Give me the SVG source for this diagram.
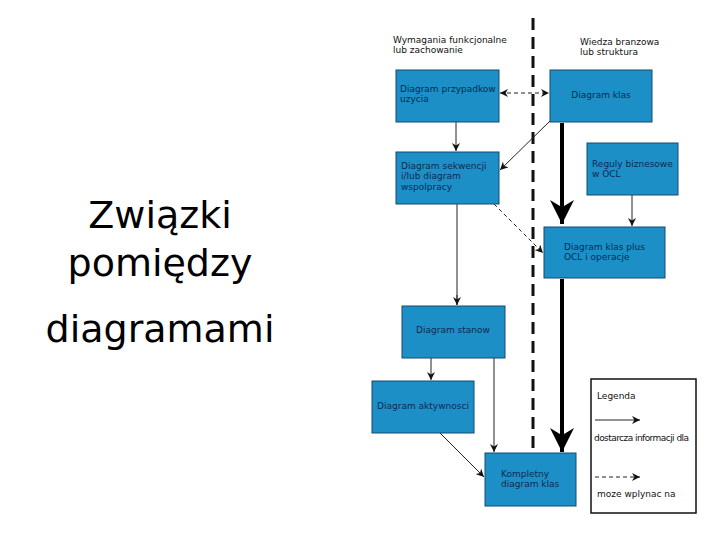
<svg xmlns="http://www.w3.org/2000/svg" width="720" height="540" viewBox="0 0 720 540">
<defs>
<style>
.n{fill:#1b8fc6;stroke:#164a6e;stroke-width:1}
.t{font-family:"DejaVu Sans",sans-serif;font-size:9px;fill:#0d2a55}
.h{font-family:"DejaVu Sans",sans-serif;font-size:9px;fill:#111}
.c{stroke:#222;stroke-width:1;fill:none}
.d{stroke:#222;stroke-width:1;fill:none;stroke-dasharray:4 3}
.k{stroke:#000;stroke-width:4;fill:none}
</style>
<marker id="a" viewBox="0 0 10 10" refX="10" refY="5" markerWidth="8" markerHeight="8" markerUnits="userSpaceOnUse" orient="auto-start-reverse"><path d="M0,0L10,5L0,10L3,5z" fill="#111"/></marker>
<marker id="b" viewBox="0 0 10 10" refX="10" refY="5" markerWidth="6" markerHeight="6" orient="auto"><path d="M0,0L10,5L0,10L3,5z" fill="#000"/></marker>
</defs>
<rect width="720" height="540" fill="#fff"/>
<text x="160" y="228" text-anchor="middle" font-family="DejaVu Sans,sans-serif" font-size="38" fill="#000">Związki</text>
<text x="160" y="276" text-anchor="middle" font-family="DejaVu Sans,sans-serif" font-size="38" fill="#000">pomiędzy</text>
<text x="160" y="342" text-anchor="middle" font-family="DejaVu Sans,sans-serif" font-size="38" fill="#000">diagramami</text>
<g id="headers">
<text class="h" x="393" y="43">Wymagania funkcjonalne</text>
<text class="h" x="393" y="53">lub zachowanie</text>
<text class="h" x="580" y="45">Wiedza branzowa</text>
<text class="h" x="580" y="55">lub struktura</text>
</g>
<g id="connectors">
<line x1="533" y1="18" x2="533" y2="450" stroke="#111" stroke-width="3" stroke-dasharray="12 7"/>
<line class="d" x1="500" y1="93" x2="549" y2="93" marker-start="url(#a)" marker-end="url(#a)"/>
<line class="c" x1="456" y1="122" x2="456" y2="151" marker-end="url(#a)"/>
<line class="c" x1="550" y1="121" x2="500" y2="170" marker-end="url(#a)"/>
<line class="k" x1="562" y1="123" x2="562" y2="224" marker-end="url(#b)"/>
<line class="c" x1="632" y1="195" x2="632" y2="226" marker-end="url(#a)"/>
<line class="d" x1="494" y1="204" x2="543" y2="253" marker-end="url(#a)"/>
<line class="c" x1="457" y1="204" x2="457" y2="305" stroke="#777"/>
<line class="c" x1="457" y1="295" x2="457" y2="305" marker-end="url(#a)"/>
<line class="k" x1="562" y1="279" x2="562" y2="452" marker-end="url(#b)"/>
<line class="c" x1="431" y1="358" x2="431" y2="380" marker-end="url(#a)"/>
<line class="c" x1="494" y1="358" x2="494" y2="452" stroke="#777" marker-end="url(#a)"/>
<line class="c" x1="440" y1="433" x2="484" y2="477" marker-end="url(#a)"/>
</g>
<g id="n1"><rect class="n" x="396" y="70" width="103" height="52"/><text class="t" x="400" y="92">Diagram przypadkow</text><text class="t" x="400" y="102">uzycia</text></g>
<g id="n2"><rect class="n" x="550" y="70" width="102" height="52"/><text class="t" x="601" y="98" text-anchor="middle">Diagram klas</text></g>
<g id="n3"><rect class="n" x="396" y="152" width="103" height="52"/><text class="t" x="401" y="169">Diagram sekwencji</text><text class="t" x="401" y="179">i/lub diagram</text><text class="t" x="401" y="190">wspolpracy</text></g>
<g id="n4"><rect class="n" x="587" y="143" width="91" height="52"/><text class="t" x="592" y="167">Reguly biznesowe</text><text class="t" x="592" y="177">w OCL</text></g>
<g id="n5"><rect class="n" x="544" y="227" width="121" height="51"/><text class="t" x="564" y="250">Diagram klas plus</text><text class="t" x="564" y="260">OCL i operacje</text></g>
<g id="n6"><rect class="n" x="402" y="306" width="103" height="52"/><text class="t" x="453" y="333" text-anchor="middle">Diagram stanow</text></g>
<g id="n7"><rect class="n" x="372" y="381" width="102" height="52"/><text class="t" x="423" y="409" text-anchor="middle">Diagram aktywnosci</text></g>
<g id="n8"><rect class="n" x="485" y="453" width="91" height="53"/><text class="t" x="501" y="477">Kompletny</text><text class="t" x="501" y="487">diagram klas</text></g>
<g id="legend">
<rect x="591" y="379" width="105" height="134" fill="#fff" stroke="#111" stroke-width="1.5"/>
<text class="h" x="597" y="399">Legenda</text>
<line class="c" x1="595" y1="420" x2="640" y2="420" marker-end="url(#a)"/>
<text class="h" x="594" y="441" textLength="95">dostarcza informacji dla</text>
<line class="d" x1="595" y1="477" x2="640" y2="477" marker-end="url(#a)"/>
<text class="h" x="597" y="497">moze wplynac na</text>
</g>
</svg>
